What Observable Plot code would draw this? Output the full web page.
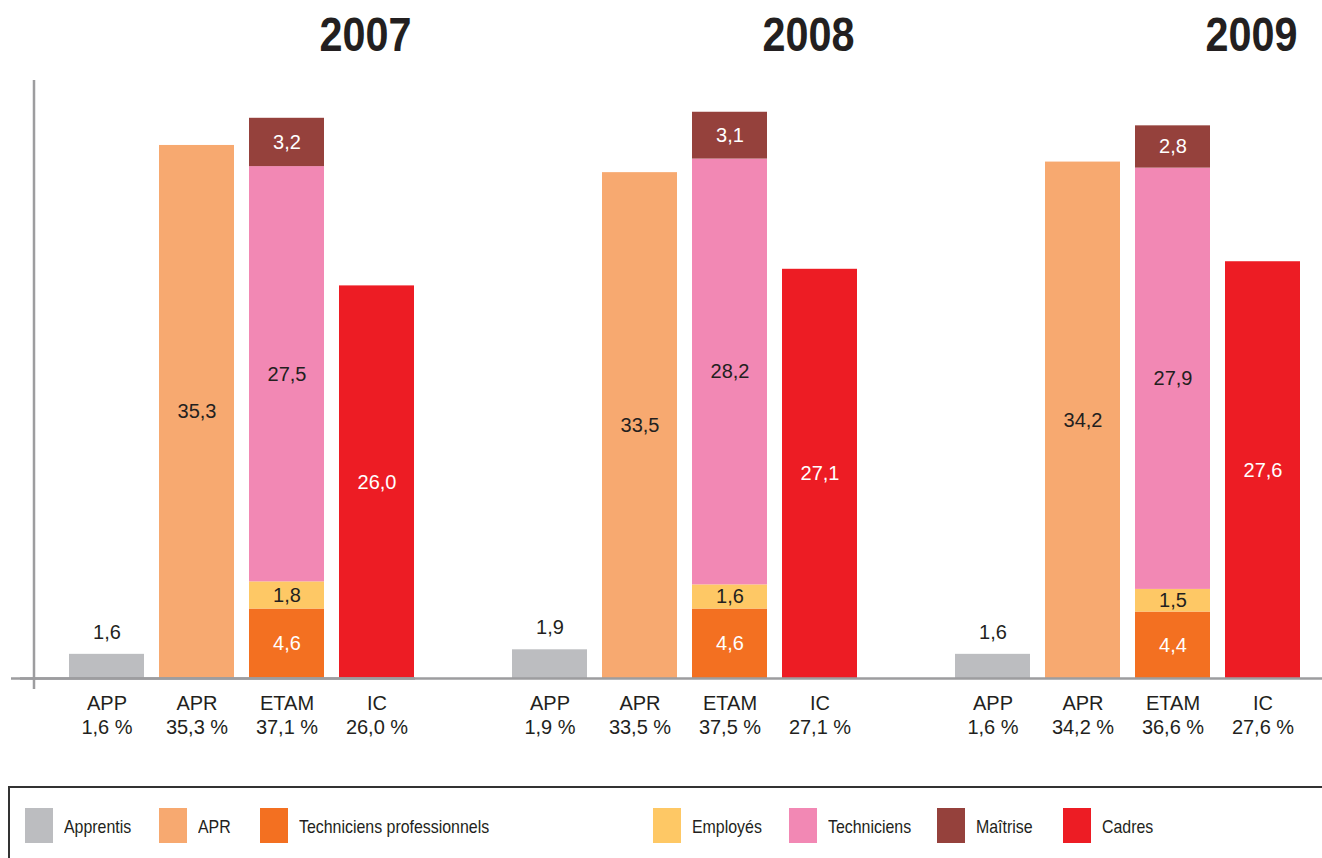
<!DOCTYPE html>
<html><head><meta charset="utf-8">
<script src="https://cdn.jsdelivr.net/npm/d3@7"></script>
<script src="https://cdn.jsdelivr.net/npm/@observablehq/plot@0.6"></script>
<style>
html,body{margin:0;padding:0;background:#fff;overflow:hidden;width:1322px;height:858px}
#chart svg{display:block}
.legend{margin-left:8px;border-top:2.5px solid #333;border-left:2.5px solid #333;width:1340px;height:120px;box-sizing:border-box;padding:20px 0 0 15px;display:grid;grid-template-columns:134px 101px 393px 136px 148px 126px auto;align-items:start;}
.item{display:flex;align-items:center;font-family:"Liberation Sans",Arial,sans-serif;font-size:18.5px;color:#231f20}
.item .lab{display:inline-block;transform:scaleX(0.86);transform-origin:left center;white-space:nowrap;padding-top:3px}
.sw{width:28px;height:35px;margin-right:11px;flex:none}
</style></head><body>
<div id="chart"></div>
<div class="legend" id="legend"></div>
<script>
// ---- data ----
const years = ["2007", "2008", "2009"];
const categories = ["APP", "APR", "ETAM", "IC"];
const seriesNames = ["Apprentis", "APR", "Techniciens professionnels", "Employés", "Techniciens", "Maîtrise", "Cadres"];
const seriesCategory = ["APP", "APR", "ETAM", "ETAM", "ETAM", "ETAM", "IC"];
const seriesColors = ["#bcbdc0", "#f7a970", "#f37021", "#fec865", "#f288b4", "#95413c", "#ed1c24"];
const apprentis = [1.6, 1.9, 1.6];
const apr = [35.3, 33.5, 34.2];
const techPro = [4.6, 4.6, 4.4];
const employes = [1.8, 1.6, 1.5];
const techniciens = [27.5, 28.2, 27.9];
const maitrise = [3.2, 3.1, 2.8];
const cadres = [26.0, 27.1, 27.6];
const tickLabels2007 = ["1,6 %", "35,3 %", "37,1 %", "26,0 %"];
const tickLabels2008 = ["1,9 %", "33,5 %", "37,5 %", "27,1 %"];
const tickLabels2009 = ["1,6 %", "34,2 %", "36,6 %", "27,6 %"];

const seriesValues = [apprentis, apr, techPro, employes, techniciens, maitrise, cadres];
const tickLabels = [tickLabels2007, tickLabels2008, tickLabels2009];

const rows = [];
years.forEach((year, i) => {
  seriesNames.forEach((s, j) => {
    rows.push({year, cat: seriesCategory[j], series: s, value: seriesValues[j][i]});
  });
});
const catRows = [];
years.forEach((year, i) => categories.forEach((cat, k) => catRows.push({year, cat, label: tickLabels[i][k]})));

const fmt = v => v.toFixed(1).replace(".", ",");
const darkText = new Set(["Apprentis", "APR", "Employés", "Techniciens"]);
const ink = "#231f20";
const axisGray = "#9d9d9f";

const chart = Plot.plot({
  width: 1322,
  height: 786,
  marginLeft: 67,
  marginRight: 19,
  marginTop: 74,
  marginBottom: 108,
  fx: {domain: years, paddingInner: 0.216, paddingOuter: 0, axis: null, label: null},
  x: {domain: categories, paddingInner: 0.165, paddingOuter: 0, axis: null, label: null},
  y: {domain: [0, 40], axis: null},
  color: {domain: seriesNames, range: seriesColors},
  style: {fontFamily: "'Liberation Sans', Arial, sans-serif", fontSize: "20px", color: ink, background: "white", overflow: "visible"},
  marks: [
    Plot.barY(rows, {fx: "year", x: "cat", y: "value", fill: "series", z: "series"}),
    Plot.ruleY([0], {stroke: axisGray, strokeWidth: 2.5, insetLeft: -48, insetRight: -48}),
    Plot.ruleY([{year: years[0]}], {fx: "year", y: () => 0, stroke: axisGray, strokeWidth: 2.5, insetLeft: -57}),
    Plot.ruleX([{year: years[0], cat: categories[0]}], {fx: "year", x: "cat", dx: -73, insetTop: 6, insetBottom: -11, stroke: axisGray, strokeWidth: 2.5}),
    Plot.text(rows.filter(d => d.cat !== "APP"), Plot.stackY({
      fx: "year", x: "cat", y: "value", z: "series",
      text: d => fmt(d.value),
      fill: d => darkText.has(d.series) ? ink : "#ffffff"
    })),
    Plot.text(rows.filter(d => d.cat === "APP"), {fx: "year", x: "cat", y: "value", text: d => fmt(d.value), dy: -22, fill: ink}),
    Plot.text(catRows, {fx: "year", x: "cat", text: d => d.cat + "\n" + d.label, frameAnchor: "bottom", lineAnchor: "top", dy: 14, lineHeight: 1.2, fill: ink}),
    Plot.text(years, {fx: d => d, text: d => d, frameAnchor: "top-right", textAnchor: "end", lineAnchor: "middle", dy: -39, dx: -4,
      fontSize: 48, fontWeight: "bold", fontFamily: "'Liberation Sans', Arial, sans-serif", fill: ink})
  ]
});
// condense the bold year titles to match the narrow typeface of the original
chart.querySelectorAll("text").forEach(t => {
  if (years.includes(t.textContent) && t.closest("[font-weight='bold']")) {
    t.setAttribute("textLength", 92);
    t.setAttribute("lengthAdjust", "spacingAndGlyphs");
  }
});
document.getElementById("chart").appendChild(chart);

const legend = document.getElementById("legend");
seriesNames.forEach((s, j) => {
  const item = document.createElement("div");
  item.className = "item";
  const sw = document.createElement("span");
  sw.className = "sw";
  sw.style.background = seriesColors[j];
  const lab = document.createElement("span");
  lab.className = "lab";
  lab.textContent = s;
  item.appendChild(sw);
  item.appendChild(lab);
  legend.appendChild(item);
});
</script>
</body></html>
